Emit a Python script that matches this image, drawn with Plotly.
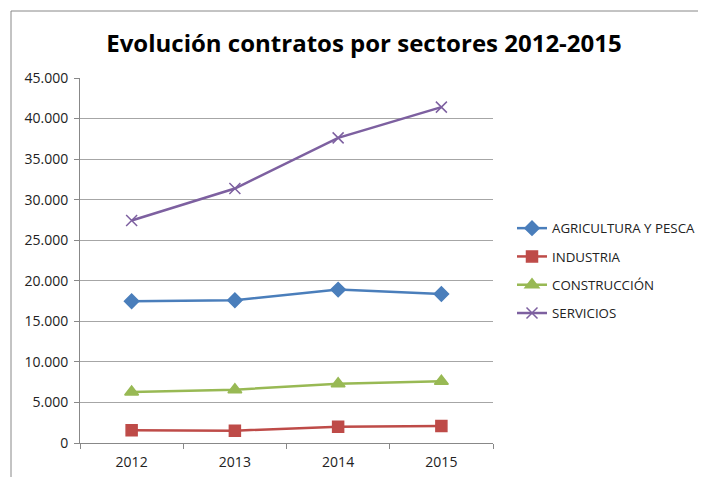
import plotly.graph_objects as go

years = ["2012", "2013", "2014", "2015"]
agricultura = [17480, 17600, 18910, 18380]
industria = [1560, 1520, 2010, 2090]
construccion = [6290, 6580, 7320, 7610]
servicios = [27430, 31370, 37620, 41410]
y_ticks = [0, 5000, 10000, 15000, 20000, 25000, 30000, 35000, 40000, 45000]

series = [
    ("AGRICULTURA Y PESCA", agricultura, "#4A7EBB", "diamond", 11),
    ("INDUSTRIA", industria, "#BE4B48", "square", 11),
    ("CONSTRUCCIÓN", construccion, "#98B954", "triangle-up", 12),
    ("SERVICIOS", servicios, "#7D60A0", "x-thin-open", 11),
]

fig = go.Figure()
for i, (name, vals, color, sym, size) in enumerate(series):
    fig.add_trace(go.Scatter(
        x=years, y=vals, name=name, mode="lines+markers",
        line=dict(color=color, width=2.5),
        marker=dict(symbol=sym, size=size, color=color,
                    line=dict(color=color, width=1.5)),
        legendgroup=f"g{i}",
    ))

OFF = 8  # page body offset
W, H = 706, 477
l, t = 80 - OFF, 78 - OFF
pw, ph = 413, 365
r, b = W - l - pw, H - t - ph

def px2x(px):
    return (px - OFF - l) / pw

def px2y(py):
    return (t + ph - (py - OFF)) / ph

fig.update_layout(
    width=W, height=H,
    margin=dict(l=l, r=r, t=t, b=b, autoexpand=False),
    paper_bgcolor="white", plot_bgcolor="white",
    separators=",.",
    font=dict(family="Open Sans, sans-serif", size=14, color="#222"),
    title=dict(text="<b>Evolución contratos por sectores 2012-2015</b>",
               x=(364 - OFF) / W, xanchor="center", y=1 - (44 - OFF) / H,
               yanchor="middle", font=dict(size=24, color="black")),
    showlegend=True,
    legend=dict(x=px2x(512), xanchor="left", y=px2y(213), yanchor="top",
                font=dict(size=13.3, color="#222"), tracegroupgap=8,
                itemwidth=30, bgcolor="rgba(0,0,0,0)"),
    xaxis=dict(type="category", showgrid=False, showline=True,
               linecolor="#888", linewidth=1, ticks="outside",
               tickson="boundaries", ticklen=5, tickcolor="#888",
               ticklabelstandoff=6,
               range=[-0.5, 3.5], tickfont=dict(size=14)),
    yaxis=dict(range=[0, 45000], tickvals=y_ticks, tickformat=",d",
               showgrid=True, gridcolor="#A6A6A6", gridwidth=1,
               showline=True, linecolor="#888", linewidth=1,
               ticks="outside", ticklen=5, tickcolor="#888",
               ticklabelstandoff=3,
               zeroline=False, tickfont=dict(size=14)),
    shapes=[dict(type="rect", xref="paper", yref="paper",
                 x0=px2x(11), x1=px2x(730), y0=px2y(500), y1=px2y(11),
                 line=dict(color="#888", width=1), layer="below")],
)

fig.write_html("out.html")
